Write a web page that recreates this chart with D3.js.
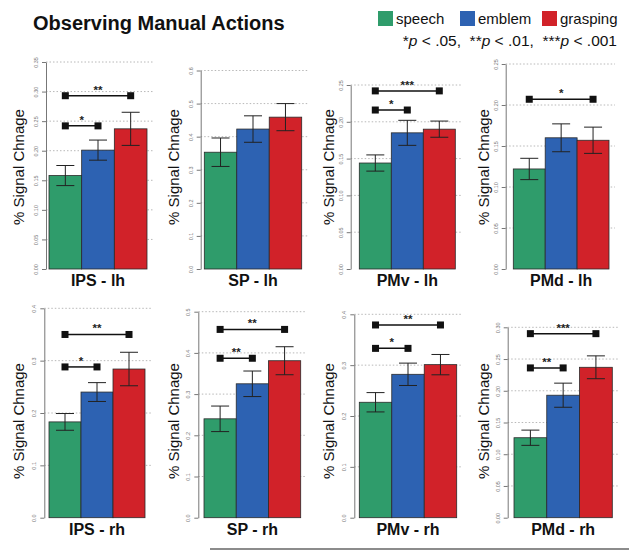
<!DOCTYPE html>
<html>
<head>
<meta charset="utf-8">
<script src="https://cdn.jsdelivr.net/npm/d3@7"></script>
<style>
  body { margin: 0; background: #fff; }
  text { font-family: "Liberation Sans", Arial, sans-serif; }
</style>
</head>
<body>
<div id="chart"></div>
<script>
// data
const conditions = ["speech", "emblem", "grasping"];
const regions = ["IPS - lh", "SP - lh", "PMv - lh", "PMd - lh",
                 "IPS - rh", "SP - rh", "PMv - rh", "PMd - rh"];
const means = [
  [0.158, 0.201, 0.237],
  [0.353, 0.423, 0.459],
  [0.144, 0.185, 0.190],
  [0.122, 0.160, 0.157],
  [0.183, 0.240, 0.284],
  [0.240, 0.325, 0.381],
  [0.227, 0.282, 0.301],
  [0.126, 0.193, 0.237]
];
const errors = [
  [0.017, 0.017, 0.028],
  [0.043, 0.040, 0.041],
  [0.011, 0.017, 0.011],
  [0.013, 0.017, 0.016],
  [0.016, 0.018, 0.032],
  [0.031, 0.031, 0.034],
  [0.019, 0.022, 0.020],
  [0.012, 0.019, 0.018]
];
const yMax = [0.35, 0.6, 0.25, 0.25, 0.4, 0.5, 0.4, 0.30];
const yStep = [0.05, 0.1, 0.05, 0.05, 0.1, 0.1, 0.1, 0.05];
// significance brackets: [from, to, height, stars]
const sigs = [
  [[0, 2, 0.293, "**"], [0, 1, 0.242, "*"]],
  [],
  [[0, 2, 0.242, "***"], [0, 1, 0.216, "*"]],
  [[0, 2, 0.207, "*"]],
  [[0, 2, 0.350, "**"], [0, 1, 0.288, "*"]],
  [[0, 2, 0.457, "**"], [0, 1, 0.387, "**"]],
  [[0, 2, 0.379, "**"], [0, 1, 0.333, "*"]],
  [[0, 2, 0.290, "***"], [0, 1, 0.236, "**"]]
];

const colors = ["#2f9c6b", "#2d62b2", "#d12229"];

// panel layout (pixels)
const layout = [
  {axisX: 46,    x0: 49,    x1: 147,   top: 62,    bottom: 269},
  {axisX: 200.7, x0: 204.3, x1: 301.7, top: 70.5,  bottom: 269},
  {axisX: 350.7, x0: 359.3, x1: 455.3, top: 85,    bottom: 269},
  {axisX: 505.7, x0: 513.3, x1: 609,   top: 64,    bottom: 269},
  {axisX: 44.3,  x0: 49,    x1: 145,   top: 308.3, bottom: 517.7},
  {axisX: 198.3, x0: 204,   x1: 300.7, top: 311.7, bottom: 517.7},
  {axisX: 354.3, x0: 359.3, x1: 456.7, top: 314.3, bottom: 517.7},
  {axisX: 507.7, x0: 514,   x1: 612.3, top: 327.3, bottom: 517.7}
];

const W = 629, H = 550;
const svg = d3.select("#chart").append("svg")
  .attr("width", W).attr("height", H)
  .style("display", "block");

// title
svg.append("text")
  .attr("x", 33).attr("y", 30)
  .attr("font-size", 20).attr("font-weight", "bold")
  .attr("fill", "#111")
  .text("Observing Manual Actions");

// legend
const legX = [378, 460, 542];
const leg = svg.append("g");
conditions.forEach((c, i) => {
  leg.append("rect")
    .attr("x", legX[i]).attr("y", 11).attr("width", 15).attr("height", 15)
    .attr("fill", colors[i]);
  leg.append("text")
    .attr("x", legX[i] + 18).attr("y", 24)
    .attr("font-size", 15).attr("fill", "#111")
    .text(c);
});
const pt = leg.append("text")
  .attr("x", 617).attr("y", 46)
  .attr("text-anchor", "end")
  .attr("font-size", 15.5).attr("fill", "#111");
[["*", ""], ["p", "i"], [" < .05,  **", ""], ["p", "i"], [" < .01,  ***", ""], ["p", "i"], [" < .001", ""]]
  .forEach(([t, s]) => {
    pt.append("tspan").attr("font-style", s ? "italic" : "normal")
      .attr("xml:space", "preserve").text(t);
  });

regions.forEach((name, p) => {
  const L = layout[p];
  const row = Math.floor(p / 4), col = p % 4;
  const g = svg.append("g");

  const x = d3.scaleBand().domain(conditions).range([L.x0, L.x1]).padding(0);
  const y = d3.scaleLinear().domain([0, yMax[p]]).range([L.bottom, L.top]);
  const ticks = d3.range(0, yMax[p] + yStep[p] / 2, yStep[p]);
  const dec = yStep[p] < 0.1 ? 2 : 1;

  // dotted grid
  g.append("g").selectAll("line")
    .data(ticks.filter(t => t > 0))
    .join("line")
    .attr("x1", L.axisX).attr("x2", L.x1 + 6)
    .attr("y1", d => y(d)).attr("y2", d => y(d))
    .attr("stroke", "#b8b8b8").attr("stroke-width", 1)
    .attr("stroke-dasharray", "1.5,2");

  // bars
  g.append("g").selectAll("rect")
    .data(means[p])
    .join("rect")
    .attr("x", (d, i) => x(conditions[i]))
    .attr("y", d => y(d))
    .attr("width", x.bandwidth())
    .attr("height", d => y(0) - y(d))
    .attr("fill", (d, i) => colors[i])
    .attr("stroke", "#2a2a2a").attr("stroke-width", 0.8);

  // error bars
  const eb = g.append("g").attr("stroke", "#222").attr("stroke-width", 1);
  means[p].forEach((m, i) => {
    const cx = x(conditions[i]) + x.bandwidth() / 2;
    const e = errors[p][i];
    eb.append("line").attr("x1", cx).attr("x2", cx)
      .attr("y1", y(m - e)).attr("y2", y(m + e));
    [m - e, m + e].forEach(v => {
      eb.append("line").attr("x1", cx - 9).attr("x2", cx + 9)
        .attr("y1", y(v)).attr("y2", y(v));
    });
  });

  // y axis, R style
  const ax = g.append("g")
    .attr("transform", `translate(${L.axisX},0)`)
    .call(d3.axisLeft(y).tickValues(ticks).tickSize(4).tickSizeOuter(0)
      .tickFormat(d => d.toFixed(dec)));
  ax.select(".domain").attr("stroke", "#777");
  ax.selectAll(".tick line").attr("stroke", "#777");
  ax.selectAll(".tick text")
    .attr("x", null).attr("dy", null)
    .attr("text-anchor", "middle")
    .attr("transform", "translate(-8,0) rotate(-90)")
    .attr("font-size", 5.5).attr("fill", "#777");

  // y label
  const ly = row === 0 ? 167 : 421;
  g.append("text")
    .attr("transform", `translate(${18 + col * 155},${ly}) rotate(-90)`)
    .attr("text-anchor", "middle")
    .attr("dominant-baseline", "central")
    .attr("font-size", 15).attr("fill", "#111")
    .text("% Signal Chnage");

  // panel name
  g.append("text")
    .attr("x", (L.x0 + L.x1) / 2).attr("y", L.bottom + 17)
    .attr("text-anchor", "middle")
    .attr("font-size", 16).attr("font-weight", "bold").attr("fill", "#111")
    .text(name);

  // significance brackets
  sigs[p].forEach(([a, b, h, s]) => {
    const xa = x(conditions[a]) + x.bandwidth() / 2;
    const xb = x(conditions[b]) + x.bandwidth() / 2;
    const yy = y(h);
    g.append("line").attr("x1", xa).attr("x2", xb)
      .attr("y1", yy).attr("y2", yy)
      .attr("stroke", "#111").attr("stroke-width", 1.5);
    [xa, xb].forEach(xx => {
      g.append("rect").attr("x", xx - 3.5).attr("y", yy - 3.5)
        .attr("width", 7).attr("height", 7).attr("fill", "#111");
    });
    g.append("text")
      .attr("x", (xa + xb) / 2).attr("y", yy - 2)
      .attr("text-anchor", "middle")
      .attr("font-size", 11.5).attr("font-weight", "bold").attr("fill", "#222")
      .text(s);
  });
});

// rule at the bottom
svg.append("line")
  .attr("x1", 210).attr("x2", W).attr("y1", 549).attr("y2", 549)
  .attr("stroke", "#666").attr("stroke-width", 1.5);
</script>
</body>
</html>
